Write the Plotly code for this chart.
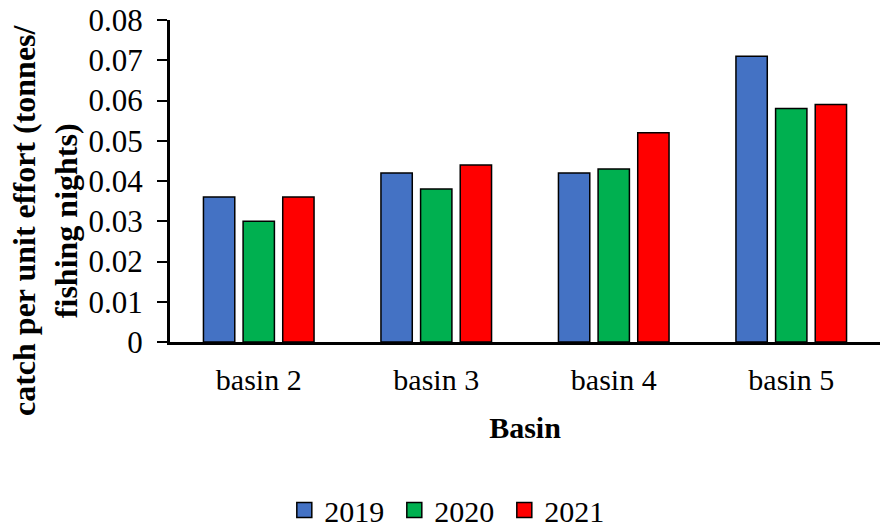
import plotly.graph_objects as go

categories = ["basin 2", "basin 3", "basin 4", "basin 5"]
years = ["2019", "2020", "2021"]
v2019 = [0.036, 0.042, 0.042, 0.071]
v2020 = [0.030, 0.038, 0.043, 0.058]
v2021 = [0.036, 0.044, 0.052, 0.059]
colors = ["#4472C4", "#00B050", "#FF0000"]

fig = go.Figure()
for name, vals, c in zip(years, [v2019, v2020, v2021], colors):
    fig.add_trace(go.Bar(x=categories, y=vals, name=name, showlegend=False,
                         marker=dict(color=c, line=dict(color="black", width=1.5))))
# legend entries with larger square swatches
for name, c in zip(years, colors):
    fig.add_trace(go.Scatter(x=[None], y=[None], mode="markers", name=name,
                             marker=dict(symbol="square", size=15, color=c, line=dict(color="black", width=1.5))))

font = "Liberation Serif, Times New Roman, serif"
fig.update_layout(
    width=881, height=528,
    margin=dict(l=170, r=1, t=20, b=186, autoexpand=False),
    plot_bgcolor="white", paper_bgcolor="white",
    barmode="group", bargap=0.33, bargroupgap=0.21,
    font=dict(family=font, color="black"),
    legend=dict(orientation="h", xref="container", yref="container", x=0.51, xanchor="center",
                y=0.034, yanchor="middle", font=dict(size=30, family=font),
                itemwidth=30, traceorder="normal", itemsizing="trace", entrywidth=65),
    xaxis=dict(showline=True, linecolor="black", linewidth=3, ticks="", automargin=False,
               tickfont=dict(size=30), ticklabelstandoff=9,
               title=dict(text="<b>Basin</b>", font=dict(size=30), standoff=22)),
    yaxis=dict(range=[0, 0.08], dtick=0.01, showline=True, linecolor="black", linewidth=3, automargin=False,
               ticks="outside", ticklen=10, tickwidth=2, tickcolor="black", showgrid=False, zeroline=False,
               tickformat=".2~f", tickfont=dict(size=31), ticklabelstandoff=8, ticklabeloverflow="allow"),
    annotations=[dict(text="<b>catch per unit effort (tonnes/<br>fishing nights)</b>", textangle=-90,
                      xref="paper", yref="paper", x=-0.176, y=0.379, xanchor="center", yanchor="middle",
                      showarrow=False, font=dict(size=32, family=font))],
)
fig.write_html("out.html", config={"displayModeBar": False},
               post_script="document.body.style.margin='0';")
